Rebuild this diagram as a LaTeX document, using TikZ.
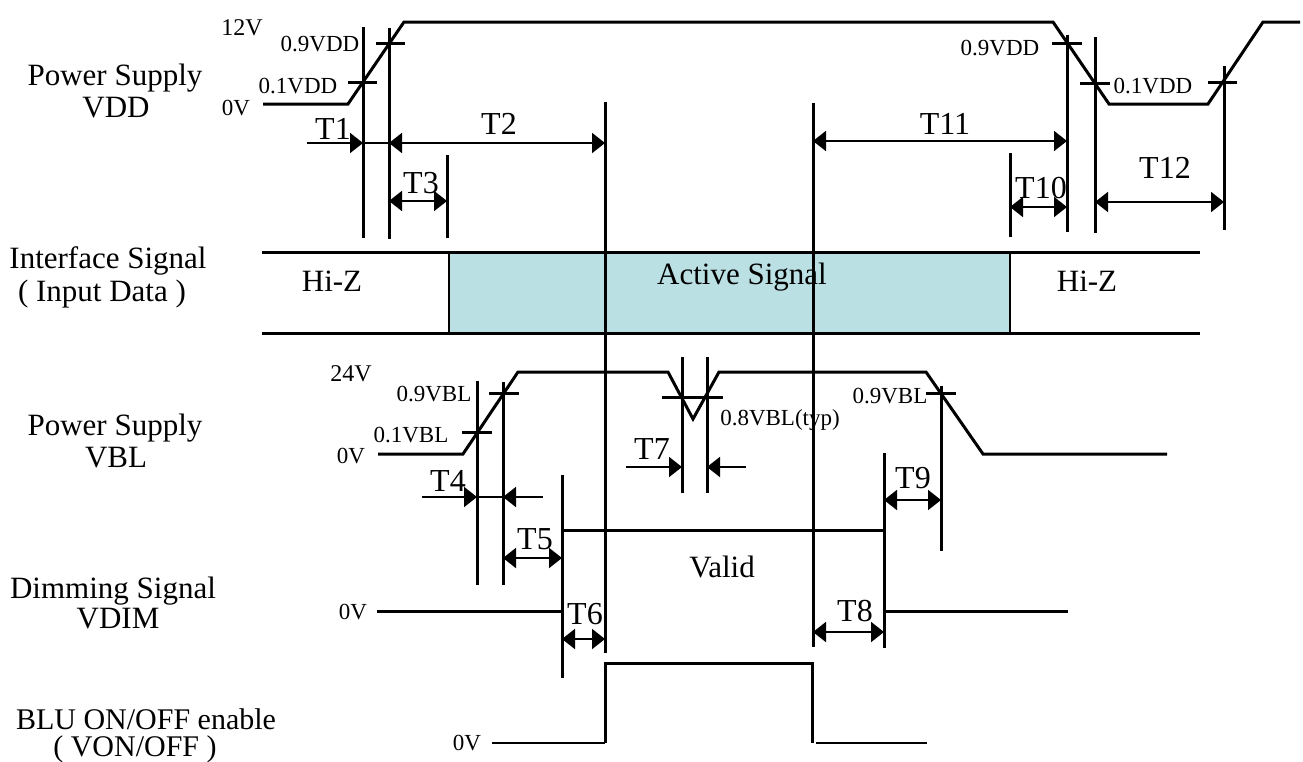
\documentclass[tikz,border=0pt]{standalone}
\usepackage{fontspec}
\setmainfont{Liberation Serif}
\usetikzlibrary{arrows.meta}
\definecolor{activebg}{RGB}{186,224,228}
\begin{document}
\begin{tikzpicture}[x=1pt,y=-1pt,
  wave/.style={line width=3pt, line join=miter},
  lowwave/.style={line width=1.5pt},
  markline/.style={line width=3pt},
  tickline/.style={line width=3pt},
  dimarr/.style={line width=2pt, {Triangle[length=13pt,width=20pt]}-{Triangle[length=13pt,width=20pt]}},
  endarr/.style={line width=2pt, -{Triangle[length=13pt,width=20pt]}},
  plainarr/.style={line width=2pt},
  biglbl/.style={font=\fontsize{31}{33}\selectfont, inner sep=0pt, anchor=base},
  smalllbl/.style={font=\fontsize{23}{25}\selectfont, inner sep=0pt, anchor=base},
  tlbl/.style={font=\fontsize{32}{34}\selectfont, inner sep=0pt, anchor=base},
]
\fill[white] (0,0) rectangle (1303,761);
\useasboundingbox (0,0) rectangle (1303,761);

% ---------- left labels ----------
\node[biglbl] (l1a) at (115,85) {Power Supply};
\node[biglbl] (l1b) at (116,117) {VDD};
\node[biglbl] (l2a) at (108,268) {Interface Signal};
\node[biglbl] (l2b) at (102,301) {( Input Data )};
\node[biglbl] (l3a) at (115,435) {Power Supply};
\node[biglbl] (l3b) at (116,467) {VBL};
\node[biglbl] (l4a) at (113,598) {Dimming Signal};
\node[biglbl] (l4b) at (118,628) {VDIM};
\node[biglbl,font=\fontsize{30}{32}\selectfont] (l5a) at (146,729) {BLU ON/OFF enable};
\node[biglbl,font=\fontsize{30}{32}\selectfont] (l5b) at (135,756) {( VON/OFF )};

% ---------- interface signal band ----------
\fill[activebg] (449,252) rectangle (1010,333);
\draw[wave] (262,252) -- (1200,252);
\draw[wave] (262,333) -- (1200,333);
\draw[line width=2.5pt] (449,252) -- (449,333);
\draw[line width=2.5pt] (1010,252) -- (1010,333);
\node[biglbl] (hiz1) at (332,291) {Hi-Z};
\node[biglbl] (act) at (742,284) {Active Signal};
\node[biglbl] (hiz2) at (1087,291) {Hi-Z};

% ---------- VDD ----------
\draw[wave] (263,104) -- (348,104) -- (404,22) -- (1053,22) -- (1109,104) -- (1208,104) -- (1263,22) -- (1300,22);
\draw[tickline] (348,82) -- (377,82);
\draw[tickline] (376,43) -- (405,43);
\draw[tickline] (1052,43) -- (1082,43);
\draw[tickline] (1080,83) -- (1110,83);
\draw[tickline] (1208,82) -- (1237,82);
\draw[markline] (363,27) -- (363,238);
\draw[markline] (389,28) -- (389,239);
\draw[markline] (447,155) -- (447,238);
\draw[markline] (605,102) -- (605,653);
\draw[markline] (813,103) -- (813,647);
\draw[markline] (1010,153) -- (1010,237);
\draw[markline] (1067,35) -- (1067,232);
\draw[markline] (1095,37) -- (1095,233);
\draw[markline] (1224,66) -- (1224,230);
\node[smalllbl,font=\fontsize{24}{26}\selectfont] (v12) at (242,35) {12V};
\node[smalllbl] (v09a) at (320,51) {0.9VDD};
\node[smalllbl] (v01a) at (298,93) {0.1VDD};
\node[smalllbl] (v0a) at (236,115) {0V};
\node[smalllbl] (v09b) at (1000,55) {0.9VDD};
\node[smalllbl] (v01b) at (1153,93) {0.1VDD};

\draw[endarr] (307,143) -- (363,143);
\draw[plainarr] (363,143) -- (389,143);
\draw[dimarr] (389,143) -- (605,143);
\draw[dimarr] (389,201) -- (447,201);
\draw[dimarr] (813,141) -- (1067,141);
\draw[dimarr] (1010,207) -- (1067,207);
\draw[dimarr] (1095,202) -- (1224,202);
\node[tlbl] (t1) at (333,139) {T1};
\node[tlbl] (t2) at (499,134) {T2};
\node[tlbl] (t3) at (421,193) {T3};
\node[tlbl] (t11) at (945,134) {T11};
\node[tlbl] (t10) at (1041,198) {T10};
\node[tlbl] (t12) at (1165,178) {T12};

% ---------- VBL ----------
\draw[wave] (378,454) -- (463,454) -- (518,372) -- (668,372) -- (693,419) -- (719,372) -- (926,372) -- (983,454) -- (1167,454);
\draw[tickline] (462,432) -- (492,432);
\draw[tickline] (489,393) -- (519,393);
\draw[tickline] (662,397) -- (723,397);
\draw[tickline] (926,393) -- (956,393);
\draw[markline] (477,381) -- (477,585);
\draw[markline] (503,382) -- (503,585);
\draw[markline] (682,357) -- (682,493);
\draw[markline] (707,357) -- (707,493);
\draw[markline] (941,386) -- (941,551);
\draw[markline] (562,475) -- (562,678);
\draw[markline] (884,453) -- (884,648);
\node[smalllbl,font=\fontsize{24}{26}\selectfont] (v24) at (351,381) {24V};
\node[smalllbl] (b09a) at (434,401) {0.9VBL};
\node[smalllbl] (b01a) at (411,442) {0.1VBL};
\node[smalllbl] (v0b) at (351,463) {0V};
\node[smalllbl] (b08) at (780,425) {0.8VBL(typ)};
\node[smalllbl] (b09b) at (890,403) {0.9VBL};

\draw[endarr] (422,497) -- (477,497);
\draw[plainarr] (477,497) -- (503,497);
\draw[endarr] (543,497) -- (503,497);
\draw[dimarr] (503,558) -- (562,558);
\draw[endarr] (626,467) -- (682,467);
\draw[endarr] (746,467) -- (707,467);
\draw[dimarr] (884,500) -- (941,500);
\draw[dimarr] (562,639) -- (605,639);
\draw[dimarr] (813,632) -- (884,632);
\node[tlbl] (t4) at (448,491) {T4};
\node[tlbl] (t5) at (535,549) {T5};
\node[tlbl] (t7) at (652,459) {T7};
\node[tlbl] (t9) at (913,488) {T9};
\node[tlbl] (t6) at (585,624) {T6};
\node[tlbl] (t8) at (855,621) {T8};

% ---------- VDIM ----------
\draw[wave] (377,611) -- (562,611);
\draw[wave] (562,530) -- (884,530);
\draw[wave] (884,611) -- (1068,611);
\node[smalllbl] (v0c) at (353,619) {0V};
\node[biglbl] (valid) at (722,577) {Valid};

% ---------- BLU ON/OFF ----------
\draw[lowwave] (492,743) -- (605,743);
\draw[wave] (605,743) -- (605,663) -- (812,663) -- (812,743);
\draw[lowwave] (816,743) -- (927,743);
\node[smalllbl] (v0d) at (467,750) {0V};
\end{tikzpicture}
\end{document}
